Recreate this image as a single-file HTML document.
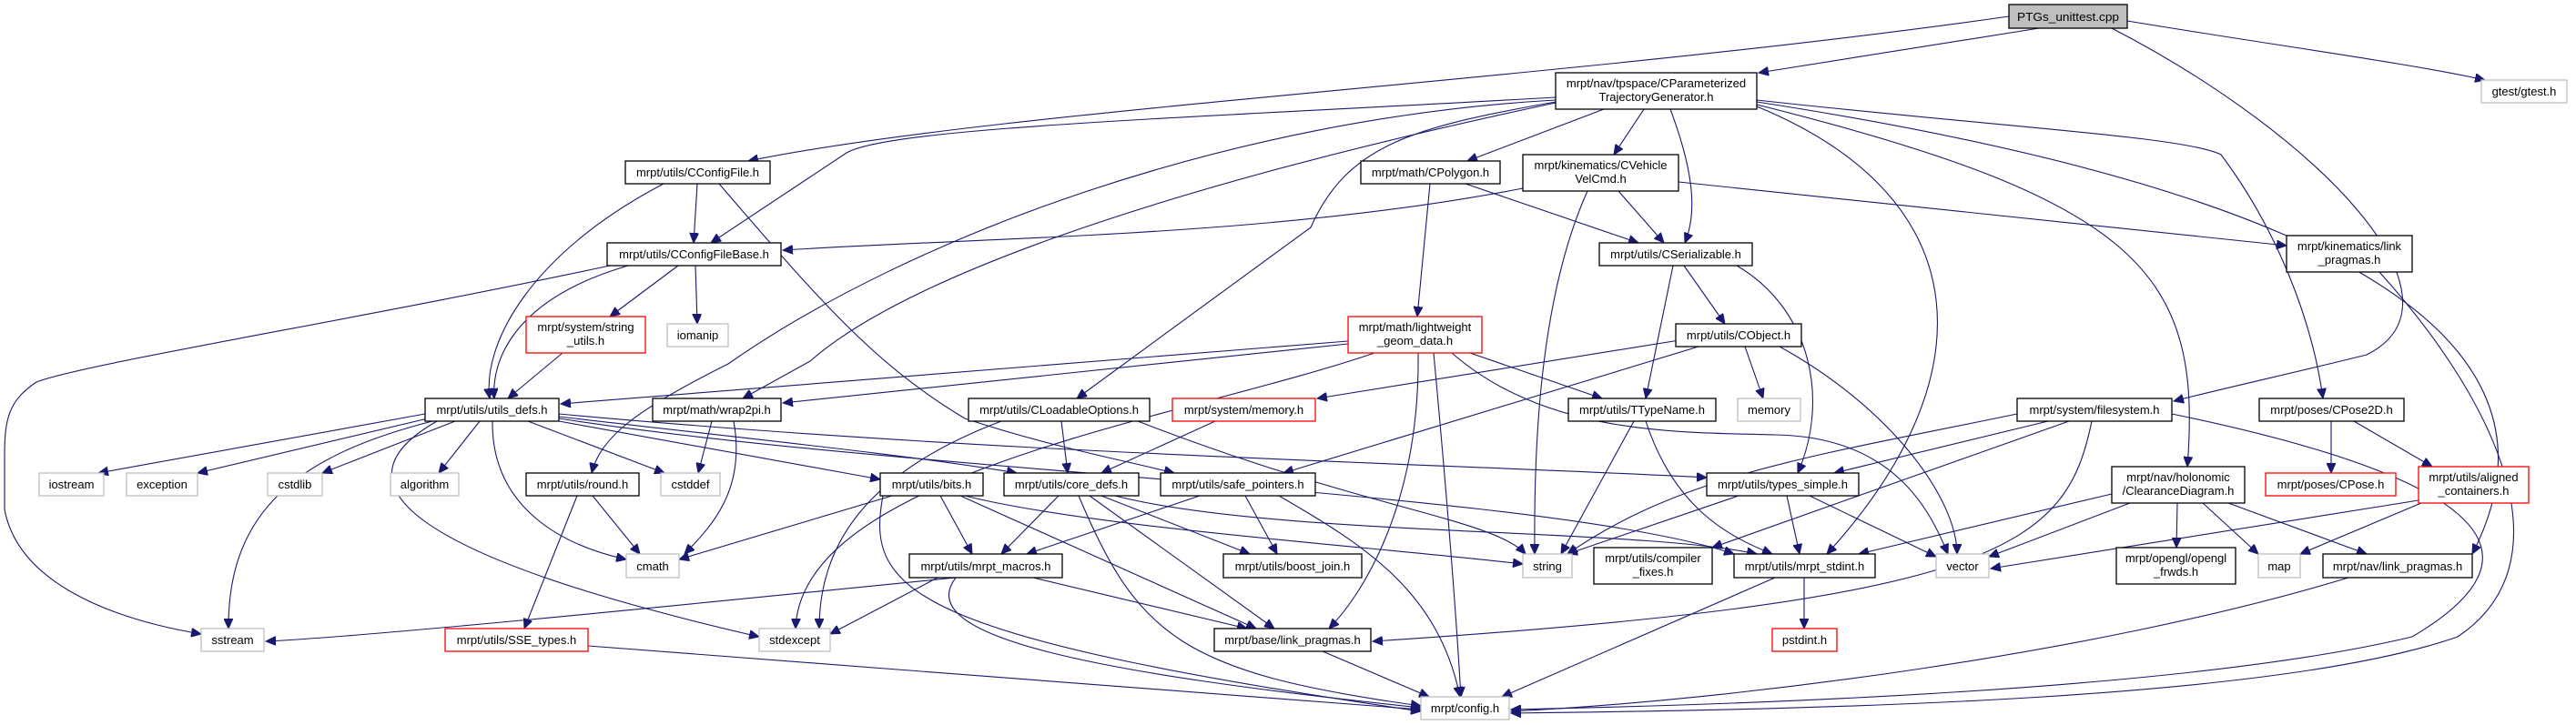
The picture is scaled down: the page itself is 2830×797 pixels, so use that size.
<!DOCTYPE html>
<html><head><meta charset="utf-8"><style>
html,body{margin:0;padding:0;background:#fff;}
svg{display:block;}
.n rect{fill:#fff;stroke:#000;stroke-width:1.3;}
.g rect{fill:#fff;stroke:#bfbfbf;stroke-width:1.3;}
.r rect{fill:#fff;stroke:#ff0000;stroke-width:1.3;}
.root rect{fill:#bfbfbf;stroke:#000;stroke-width:1.3;}
text{font-family:"Liberation Sans",Arial,sans-serif;font-size:13px;fill:#000;text-anchor:middle;}
.e path{fill:none;stroke:#191970;stroke-width:1.1;marker-end:url(#a);}
</style></head><body>
<svg width="2830" height="797" viewBox="0 0 2830 797" xmlns="http://www.w3.org/2000/svg">
<defs><marker id="a" markerUnits="userSpaceOnUse" markerWidth="12" markerHeight="10" refX="11" refY="5" orient="auto"><path d="M0,0 L11,5 L0,10 z" fill="#191970" stroke="#191970"/></marker></defs>
<g class="e">
<path d="M2240,31 L1932,80"/>
<path d="M2337,23 C2500,50 2650,70 2730,88"/>
<path d="M2320,31 C2550,150 2720,330 2600,390 C2520,410 2450,425 2388,441"/>
<path d="M2207,18 C1700,90 1100,120 822,177"/>
<path d="M1709,107 C1300,130 980,140 930,168 L781,267"/>
<path d="M1673,207 C1400,260 1100,260 860,275"/>
<path d="M1762,120 L1612,177"/>
<path d="M1806,120 L1773,170"/>
<path d="M1835,120 C1865,200 1862,240 1851,267"/>
<path d="M1610,202 L1800,267"/>
<path d="M1778,210 L1828,267"/>
<path d="M1744,210 C1690,330 1685,500 1686,609"/>
<path d="M1844,200 L2512,270"/>
<path d="M766,202 L762,267"/>
<path d="M729,202 C580,280 530,380 538,438"/>
<path d="M790,202 C900,330 960,400 1060,460 C1150,490 1230,505 1290,520"/>
<path d="M745,292 L670,348"/>
<path d="M764,292 L766,356"/>
<path d="M690,292 C560,330 540,400 543,438"/>
<path d="M670,292 C400,350 90,400 40,420 C10,440 5,460 5,500 L5,560 C20,640 120,680 221,697"/>
<path d="M618,388 L558,438"/>
<path d="M1709,110 C1350,130 1000,260 800,400 C700,450 660,480 650,520"/>
<path d="M1709,113 C1300,200 1000,300 890,397 L816,438"/>
<path d="M1481,375 L616,444"/>
<path d="M1481,378 L860,443"/>
<path d="M1571,202 L1557,348"/>
<path d="M1709,112 C1550,140 1480,160 1440,250 L1183,438"/>
<path d="M1615,388 L1760,438"/>
<path d="M1558,388 C1560,550 1500,650 1460,691"/>
<path d="M1575,388 C1590,550 1600,680 1605,766"/>
<path d="M1595,388 C1700,480 1850,475 1950,478 C2080,480 2120,560 2140,609"/>
<path d="M1510,388 C1300,460 880,520 874,691"/>
<path d="M1838,292 L1808,438"/>
<path d="M1850,292 L1895,356"/>
<path d="M1908,292 C1990,340 2010,440 1975,520"/>
<path d="M1845,374 L1447,438"/>
<path d="M1917,381 L1937,438"/>
<path d="M1955,381 C2080,450 2150,550 2150,609"/>
<path d="M1866,381 L1410,520"/>
<path d="M1335,463 L1210,520"/>
<path d="M1166,463 L1173,520"/>
<path d="M1250,463 C1500,560 1640,570 1676,609"/>
<path d="M1100,463 C950,520 900,600 900,691"/>
<path d="M1795,463 L1715,609"/>
<path d="M1808,463 C1840,560 1900,590 1947,609"/>
<path d="M467,455 L108,520"/>
<path d="M470,460 L217,520"/>
<path d="M500,463 L354,520"/>
<path d="M527,463 L482,520"/>
<path d="M541,463 C540,560 620,600 688,615"/>
<path d="M580,463 L730,520"/>
<path d="M475,463 C330,500 250,560 251,691"/>
<path d="M480,463 C380,520 400,600 834,700"/>
<path d="M614,463 L967,527"/>
<path d="M614,458 C800,480 1000,500 1117,520"/>
<path d="M614,455 C1100,500 1600,510 1875,525"/>
<path d="M614,460 C1000,520 1700,540 1905,609"/>
<path d="M782,463 L767,520"/>
<path d="M806,463 C820,540 780,580 752,609"/>
<path d="M651,545 L703,609"/>
<path d="M634,545 L576,691"/>
<path d="M646,710 L1561,780"/>
<path d="M980,545 L746,615"/>
<path d="M1033,545 L1068,609"/>
<path d="M1055,545 L1380,691"/>
<path d="M970,545 C950,650 1000,700 1561,782"/>
<path d="M1060,545 C1200,580 1500,600 1673,620"/>
<path d="M1163,545 L1100,609"/>
<path d="M1197,545 L1400,691"/>
<path d="M1185,545 C1250,700 1300,740 1561,776"/>
<path d="M1210,545 L1373,609"/>
<path d="M1225,545 C1400,590 1800,580 1930,609"/>
<path d="M1318,545 L1128,609"/>
<path d="M1368,545 L1403,609"/>
<path d="M1405,545 C1500,600 1580,650 1604,766"/>
<path d="M1050,635 C700,670 400,700 292,705"/>
<path d="M1030,635 L912,697"/>
<path d="M1135,635 L1370,691"/>
<path d="M1050,635 C1000,700 1200,740 1561,778"/>
<path d="M1453,716 L1570,766"/>
<path d="M1910,545 L1722,609"/>
<path d="M1963,545 L1977,609"/>
<path d="M1988,545 L2127,612"/>
<path d="M1982,635 L1982,691"/>
<path d="M1950,635 L1650,766"/>
<path d="M2250,463 L2015,520"/>
<path d="M2216,455 C2000,500 1850,520 1722,609"/>
<path d="M2273,463 L1881,602"/>
<path d="M2298,463 C2270,600 2200,660 1508,705"/>
<path d="M2386,455 C2700,520 2820,600 2650,700 C2400,760 1900,775 1660,780"/>
<path d="M2561,463 L2561,520"/>
<path d="M2586,463 L2672,513"/>
<path d="M2320,543 L2042,609"/>
<path d="M2340,553 L2185,612"/>
<path d="M2392,553 L2391,602"/>
<path d="M2420,553 L2481,609"/>
<path d="M2448,553 L2600,609"/>
<path d="M2657,550 L2187,625"/>
<path d="M2660,553 L2527,609"/>
<path d="M2580,635 C2300,720 1900,770 1660,782"/>
<path d="M2614,299 C2750,450 2820,620 2700,700 C2500,770 2000,780 1660,784"/>
<path d="M1930,112 C2500,200 2850,350 2716,609"/>
<path d="M1930,110 C2200,140 2400,150 2440,170 C2500,250 2540,350 2552,438"/>
<path d="M1930,115 C2350,220 2420,300 2403,513"/>
<path d="M1930,117 C2180,220 2180,420 2007,609"/>
</g>
<g class="root"><rect x="2207" y="5" width="130" height="26"/><text x="2272" y="23" textLength="112" lengthAdjust="spacingAndGlyphs">PTGs_unittest.cpp</text></g>
<g class="n"><rect x="1709" y="80" width="221" height="40"/><text x="1819.5" y="96">mrpt/nav/tpspace/CParameterized</text><text x="1819.5" y="111">TrajectoryGenerator.h</text></g>
<g class="g"><rect x="2726" y="88" width="94" height="25"/><text x="2773" y="105">gtest/gtest.h</text></g>
<g class="n"><rect x="687" y="177" width="159" height="25"/><text x="766.5" y="194">mrpt/utils/CConfigFile.h</text></g>
<g class="n"><rect x="1495" y="177" width="153" height="25"/><text x="1571.5" y="194">mrpt/math/CPolygon.h</text></g>
<g class="n"><rect x="1673" y="170" width="171" height="40"/><text x="1758.5" y="186">mrpt/kinematics/CVehicle</text><text x="1758.5" y="201">VelCmd.h</text></g>
<g class="n"><rect x="667" y="267" width="191" height="25"/><text x="762.5" y="284">mrpt/utils/CConfigFileBase.h</text></g>
<g class="n"><rect x="1757" y="267" width="168" height="25"/><text x="1841" y="284">mrpt/utils/CSerializable.h</text></g>
<g class="n"><rect x="2512" y="259" width="138" height="40"/><text x="2581" y="275">mrpt/kinematics/link</text><text x="2581" y="290">_pragmas.h</text></g>
<g class="r"><rect x="578" y="348" width="131" height="40"/><text x="643.5" y="364">mrpt/system/string</text><text x="643.5" y="379">_utils.h</text></g>
<g class="g"><rect x="733" y="356" width="67" height="25"/><text x="766.5" y="373">iomanip</text></g>
<g class="r"><rect x="1481" y="348" width="147" height="40"/><text x="1554.5" y="364">mrpt/math/lightweight</text><text x="1554.5" y="379">_geom_data.h</text></g>
<g class="n"><rect x="1841" y="356" width="138" height="25"/><text x="1910" y="373">mrpt/utils/CObject.h</text></g>
<g class="n"><rect x="467" y="438" width="147" height="25"/><text x="540.5" y="455">mrpt/utils/utils_defs.h</text></g>
<g class="n"><rect x="717" y="438" width="141" height="25"/><text x="787.5" y="455">mrpt/math/wrap2pi.h</text></g>
<g class="n"><rect x="1064" y="438" width="199" height="25"/><text x="1163.5" y="455">mrpt/utils/CLoadableOptions.h</text></g>
<g class="r"><rect x="1288" y="438" width="157" height="25"/><text x="1366.5" y="455">mrpt/system/memory.h</text></g>
<g class="n"><rect x="1723" y="438" width="162" height="25"/><text x="1804" y="455">mrpt/utils/TTypeName.h</text></g>
<g class="g"><rect x="1909" y="438" width="69" height="25"/><text x="1943.5" y="455">memory</text></g>
<g class="n"><rect x="2216" y="438" width="170" height="25"/><text x="2301" y="455">mrpt/system/filesystem.h</text></g>
<g class="n"><rect x="2482" y="438" width="159" height="25"/><text x="2561.5" y="455">mrpt/poses/CPose2D.h</text></g>
<g class="g"><rect x="43" y="520" width="71" height="25"/><text x="78.5" y="537">iostream</text></g>
<g class="g"><rect x="139" y="520" width="78" height="25"/><text x="178" y="537">exception</text></g>
<g class="g"><rect x="294" y="520" width="60" height="25"/><text x="324" y="537">cstdlib</text></g>
<g class="g"><rect x="429" y="520" width="75" height="25"/><text x="466.5" y="537">algorithm</text></g>
<g class="n"><rect x="578" y="520" width="124" height="25"/><text x="640" y="537">mrpt/utils/round.h</text></g>
<g class="g"><rect x="726" y="520" width="65" height="25"/><text x="758.5" y="537">cstddef</text></g>
<g class="n"><rect x="967" y="520" width="113" height="25"/><text x="1023.5" y="537">mrpt/utils/bits.h</text></g>
<g class="n"><rect x="1103" y="520" width="148" height="25"/><text x="1177" y="537">mrpt/utils/core_defs.h</text></g>
<g class="n"><rect x="1275" y="520" width="170" height="25"/><text x="1360" y="537">mrpt/utils/safe_pointers.h</text></g>
<g class="n"><rect x="1875" y="520" width="167" height="25"/><text x="1958.5" y="537">mrpt/utils/types_simple.h</text></g>
<g class="n"><rect x="2320" y="513" width="146" height="40"/><text x="2393" y="529">mrpt/nav/holonomic</text><text x="2393" y="544">/ClearanceDiagram.h</text></g>
<g class="r"><rect x="2489" y="520" width="143" height="25"/><text x="2560.5" y="537">mrpt/poses/CPose.h</text></g>
<g class="r"><rect x="2657" y="513" width="121" height="40"/><text x="2717.5" y="529">mrpt/utils/aligned</text><text x="2717.5" y="544">_containers.h</text></g>
<g class="g"><rect x="688" y="609" width="58" height="26"/><text x="717" y="627">cmath</text></g>
<g class="n"><rect x="999" y="609" width="168" height="26"/><text x="1083" y="627">mrpt/utils/mrpt_macros.h</text></g>
<g class="n"><rect x="1344" y="609" width="152" height="26"/><text x="1420" y="627">mrpt/utils/boost_join.h</text></g>
<g class="g"><rect x="1673" y="609" width="54" height="26"/><text x="1700" y="627">string</text></g>
<g class="n"><rect x="1751" y="602" width="130" height="40"/><text x="1816" y="618">mrpt/utils/compiler</text><text x="1816" y="633">_fixes.h</text></g>
<g class="n"><rect x="1905" y="609" width="155" height="26"/><text x="1982.5" y="627">mrpt/utils/mrpt_stdint.h</text></g>
<g class="g"><rect x="2127" y="609" width="58" height="26"/><text x="2156" y="627">vector</text></g>
<g class="n"><rect x="2325" y="602" width="131" height="40"/><text x="2390.5" y="618">mrpt/opengl/opengl</text><text x="2390.5" y="633">_frwds.h</text></g>
<g class="g"><rect x="2481" y="609" width="46" height="26"/><text x="2504" y="627">map</text></g>
<g class="n"><rect x="2552" y="609" width="164" height="26"/><text x="2634" y="627">mrpt/nav/link_pragmas.h</text></g>
<g class="g"><rect x="221" y="691" width="69" height="25"/><text x="255.5" y="708">sstream</text></g>
<g class="r"><rect x="489" y="691" width="157" height="25"/><text x="567.5" y="708">mrpt/utils/SSE_types.h</text></g>
<g class="g"><rect x="834" y="691" width="78" height="25"/><text x="873" y="708">stdexcept</text></g>
<g class="n"><rect x="1334" y="691" width="172" height="25"/><text x="1420" y="708">mrpt/base/link_pragmas.h</text></g>
<g class="r"><rect x="1947" y="691" width="71" height="25"/><text x="1982.5" y="708">pstdint.h</text></g>
<g class="g"><rect x="1561" y="766" width="97" height="25"/><text x="1609.5" y="783">mrpt/config.h</text></g>
</svg>
</body></html>
